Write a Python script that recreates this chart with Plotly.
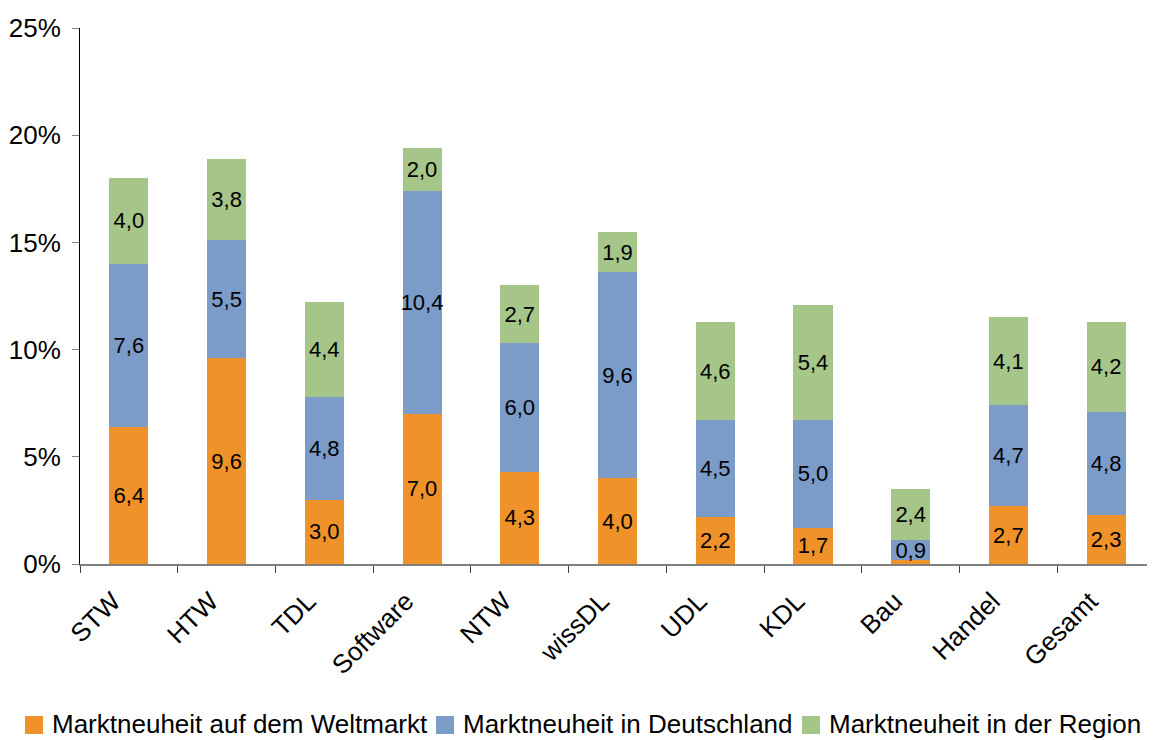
import plotly.graph_objects as go

categories = ["STW", "HTW", "TDL", "Software", "NTW", "wissDL", "UDL", "KDL", "Bau", "Handel", "Gesamt"]
weltmarkt = [6.4, 9.6, 3.0, 7.0, 4.3, 4.0, 2.2, 1.7, 0.2, 2.7, 2.3]
deutschland = [7.6, 5.5, 4.8, 10.4, 6.0, 9.6, 4.5, 5.0, 0.9, 4.7, 4.8]
region = [4.0, 3.8, 4.4, 2.0, 2.7, 1.9, 4.6, 5.4, 2.4, 4.1, 4.2]
series_names = ["Marktneuheit auf dem Weltmarkt", "Marktneuheit in Deutschland", "Marktneuheit in der Region"]
colors = ["#EF9229", "#7B9CC8", "#A6C589"]

FONT = "Liberation Sans, Arial, sans-serif"

def labels(vals):
    return [("%.1f" % v).replace(".", ",") if v >= 0.5 else "" for v in vals]

fig = go.Figure()
for name, vals, col in zip(series_names, [weltmarkt, deutschland, region], colors):
    fig.add_trace(go.Bar(
        x=categories, y=vals, name=name, marker=dict(color=col, line=dict(width=0)),
        text=labels(vals), textposition="inside", insidetextanchor="middle",
        textangle=0, constraintext="none", cliponaxis=False,
        textfont=dict(family=FONT, size=22, color="#000000"),
        width=0.4, hoverinfo="y",
    ))

# plot area geometry (figure pixels)
L, R, T, B, W, H = 72, 8, 20, 184, 1155, 740
PW, PH = W - L - R, H - T - B
def px_x(x):
    return (x - L) / PW
def px_y(y):
    return (H - B - y) / PH

# manual legend (squares + text), positioned in paper coordinates
legend_square_x = [17, 428, 794]
legend_text_x = [42, 453, 819]
sq_top, sq_size, text_mid = 708, 18, 716
for name, col, sx, tx in zip(series_names, colors, legend_square_x, legend_text_x):
    fig.add_shape(type="rect", xref="paper", yref="paper",
                  x0=px_x(sx), x1=px_x(sx + sq_size), y0=px_y(sq_top + sq_size), y1=px_y(sq_top),
                  fillcolor=col, line=dict(width=0))
    fig.add_annotation(xref="paper", yref="paper", x=px_x(tx), y=px_y(text_mid),
                       xanchor="left", yanchor="middle", text=name, showarrow=False,
                       font=dict(family=FONT, size=26, color="#000000"))

fig.update_layout(
    barmode="stack",
    width=W, height=H,
    margin=dict(l=L, r=R, t=T, b=B),
    paper_bgcolor="white", plot_bgcolor="white",
    font=dict(family=FONT, size=25, color="#000000"),
    showlegend=False,
)
fig.update_yaxes(
    range=[0, 25], tickvals=[0, 5, 10, 15, 20, 25],
    ticktext=["0%", "5%", "10%", "15%", "20%", "25%"],
    showgrid=False, zeroline=False, showline=True, linecolor="#000000", linewidth=1,
    ticks="outside", ticklen=7, tickcolor="#808080", tickfont=dict(family=FONT, size=26),
    ticklabelstandoff=6, automargin=False,
)
fig.update_xaxes(
    showgrid=False, showline=True, linecolor="#808080", linewidth=1.5,
    ticks="outside", ticklen=7, tickcolor="#404040", tickson="boundaries",
    tickangle=-45, tickfont=dict(family=FONT, size=26), automargin=False,
    ticklabelshift=-16, ticklabelstandoff=10,
)
fig.write_html("out.html")
